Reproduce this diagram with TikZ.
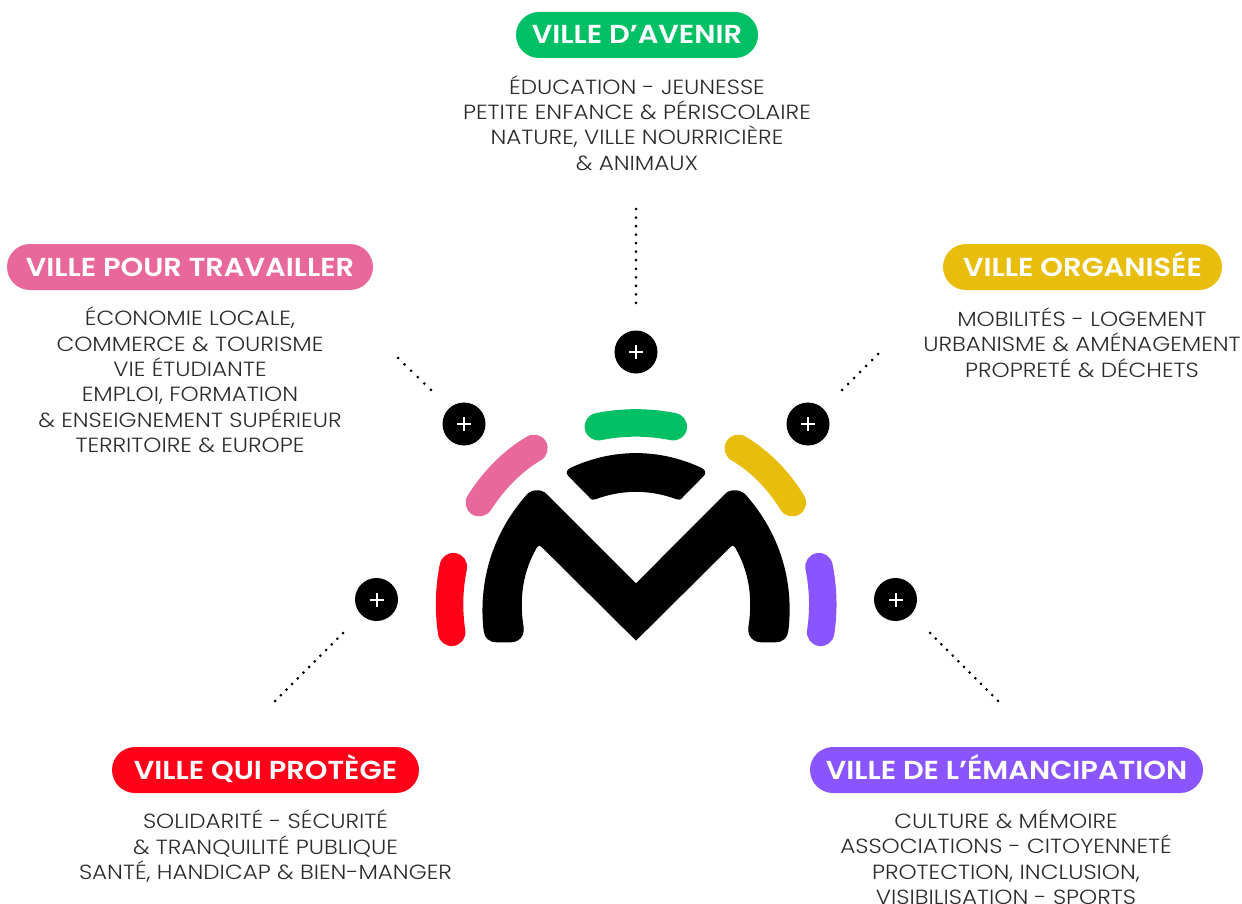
\documentclass[tikz,border=0pt]{standalone}
\usepackage{fontspec}
\setmainfont[FakeStretch=1.125]{Poppins Light}
\newfontfamily\headf[FakeStretch=1.11]{Poppins SemiBold}
\definecolor{cgreen}{HTML}{00C065}
\definecolor{cpink}{HTML}{E8689B}
\definecolor{cyellow}{HTML}{E9BD0C}
\definecolor{cred}{HTML}{FF0019}
\definecolor{cpurple}{HTML}{8A55FF}
\definecolor{ctext}{HTML}{2B2B2B}
\tikzset{
  pill/.style={fill=#1,rounded corners=23pt,minimum height=46pt,inner sep=0pt,text=white,text height=18pt,text depth=0pt,font=\headf\fontsize{26}{26}\selectfont},
  body/.style={align=center,text=ctext,inner sep=0pt,font=\fontsize{20.5}{25.4}\selectfont},
  plusnode/.style={circle,fill=black,minimum size=43pt,inner sep=0pt,path picture={
    \draw[white,line width=2pt] ([xshift=-7pt]path picture bounding box.center) -- ([xshift=7pt]path picture bounding box.center);
    \draw[white,line width=2pt] ([yshift=-7pt]path picture bounding box.center) -- ([yshift=7pt]path picture bounding box.center);}},
  dotline/.style={line width=3pt,line cap=round,dash pattern=on 0pt off #1},
  petal/.style={line width=27.5pt,line cap=round}
}
\begin{document}
\begin{tikzpicture}[x=1pt,y=-1pt]
\useasboundingbox (0,0) rectangle (1242,904);
% pills
\node[pill=cgreen,minimum width=242pt] (pg) at (637,35) {VILLE D’AVENIR};
\node[pill=cpink,minimum width=366pt] (pp) at (190,267) {VILLE POUR TRAVAILLER};
\node[pill=cyellow,minimum width=279pt] (py) at (1082.5,267) {VILLE ORGANISÉE};
\node[pill=cred,minimum width=307pt] (pr) at (265.5,770) {VILLE QUI PROTÈGE};
\node[pill=cpurple,minimum width=393pt] (pv) at (1006.5,770) {VILLE DE L’ÉMANCIPATION};
% bodies
\node[body] (tg) at (637,123) {ÉDUCATION - JEUNESSE\\PETITE ENFANCE \& PÉRISCOLAIRE\\NATURE, VILLE NOURRICIÈRE\\\& ANIMAUX};
\node[body] (tp) at (190,380) {ÉCONOMIE LOCALE,\\COMMERCE \& TOURISME\\VIE ÉTUDIANTE\\EMPLOI, FORMATION\\\& ENSEIGNEMENT SUPÉRIEUR\\TERRITOIRE \& EUROPE};
\node[body] (ty) at (1082,342.5) {MOBILITÉS - LOGEMENT\\URBANISME \& AMÉNAGEMENT\\PROPRETÉ \& DÉCHETS};
\node[body] (tr) at (265.5,846.5) {SOLIDARITÉ - SÉCURITÉ\\\& TRANQUILITÉ PUBLIQUE\\SANTÉ, HANDICAP \& BIEN-MANGER};
\node[body] (tv) at (1006,857) {CULTURE \& MÉMOIRE\\ASSOCIATIONS - CITOYENNETÉ\\PROTECTION, INCLUSION,\\VISIBILISATION - SPORTS};
% plus
\node[plusnode] (a) at (636,352) {};
\node[plusnode] (b) at (464,424) {};
\node[plusnode] (c) at (808,424) {};
\node[plusnode] (d) at (376.5,599.5) {};
\node[plusnode] (e) at (895.5,599.5) {};
% dotted leaders
\coordinate (a1) at (636,209); \coordinate (a2) at (636,303);
\coordinate (b1) at (398,358); \coordinate (b2) at (431,390);
\coordinate (c1) at (878,354); \coordinate (c2) at (842,390);
\coordinate (d1) at (343,633); \coordinate (d2) at (275,701);
\coordinate (e1) at (930,633); \coordinate (e2) at (998,701);
\draw[dotline=8.54pt] (a1) -- (a2);
\draw[dotline=9.18pt] (b1) -- (b2);
\draw[dotline=8.47pt] (c1) -- (c2);
\draw[dotline=8.0pt] (d1) -- (d2);
\draw[dotline=8.0pt] (e1) -- (e2);
% logo (coordinates in 3x zoom pixels)
\begin{scope}[x=0.33333pt,y=-0.33333pt,shift={(420pt,-390pt)}]
\draw[petal,cgreen] (535,110) .. controls (610,95) and (685,95) .. (760,110);
\draw[petal,cpink] (342,175) .. controls (275,215) and (222,270) .. (178,338);
\draw[petal,cyellow] (955,175) .. controls (1022,215) and (1075,270) .. (1117,338);
\draw[petal,cred] (100,530) .. controls (87,595) and (85,660) .. (95,727);
\draw[petal,cpurple] (1197,530) .. controls (1210,595) and (1212,660) .. (1202,727);
\fill[black] (190,715) .. controls (175,560) and (225,420) .. (322,312)
  .. controls (335,298) and (365,296) .. (380,312)
  -- (648,580) -- (915,312)
  .. controls (930,296) and (960,298) .. (975,312)
  .. controls (1072,420) and (1122,560) .. (1106,715)
  .. controls (1103,745) and (1090,757) .. (1065,757)
  -- (1025,757) .. controls (1000,757) and (982,740) .. (985,712)
  .. controls (1000,620) and (985,540) .. (945,472)
  .. controls (942,466) and (936,465) .. (932,470)
  -- (648,752) -- (364,470)
  .. controls (360,465) and (354,466) .. (351,472)
  .. controls (311,540) and (296,620) .. (311,712)
  .. controls (314,740) and (296,757) .. (271,757)
  -- (231,757) .. controls (206,757) and (193,745) .. (190,715) -- cycle;
\fill[black] (455,232) .. controls (580,175) and (716,175) .. (841,232)
  .. controls (856,238) and (860,248) .. (852,257)
  -- (788,322) .. controls (782,330) and (776,330) .. (770,328)
  .. controls (690,298) and (606,298) .. (526,328)
  .. controls (520,330) and (514,330) .. (508,322)
  -- (444,257) .. controls (436,248) and (440,238) .. (455,232) -- cycle;
\end{scope}
\end{tikzpicture}
\end{document}
